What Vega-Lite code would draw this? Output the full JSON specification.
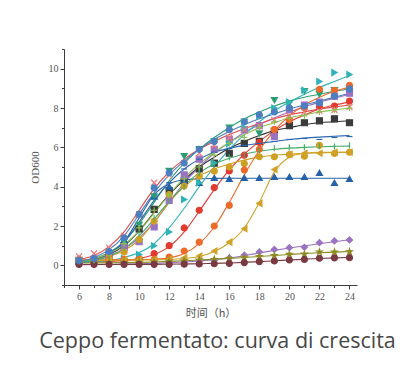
{
  "$schema": "https://vega.github.io/schema/vega-lite/v6.json",
  "width": 293,
  "height": 236,
  "autosize": {"type": "none"},
  "padding": {"left": 64, "top": 49, "right": 53, "bottom": 95},
  "background": "white",
  "config": {
    "view": {"stroke": null},
    "axis": {
      "grid": false,
      "domainColor": "#3a3a3a",
      "tickColor": "#3a3a3a",
      "labelFont": "Liberation Serif",
      "labelFontSize": 10,
      "labelColor": "#555555",
      "titleFont": "Liberation Serif",
      "titleFontSize": 11,
      "titleFontWeight": "normal",
      "titleColor": "#555555"
    }
  },
  "title": {
    "text": "Ceppo fermentato: curva di crescita",
    "orient": "bottom",
    "anchor": "middle",
    "font": "Open Sans",
    "fontSize": 21.5,
    "fontWeight": "normal",
    "color": "#474747",
    "offset": 13,
    "dx": 7
  },
  "datasets": {
    "obs": [
      {"h":6,"S1":0.2,"S2":0.2,"S3":0.2,"S4":0.25,"S5":0.25,"S6":0.25,"S7":0.2,"S8":0.3,"S9":0.25,"S10":0.05,"S11":0.12,"S12":0.05,"S13":0.2,"S14":0.2,"S15":0.45,"S16":0.25,"S17":0.25},
      {"h":7,"S1":0.25,"S2":0.2,"S3":0.3,"S4":0.3,"S5":0.3,"S6":0.3,"S7":0.2,"S8":0.3,"S9":0.25,"S10":0.05,"S11":0.12,"S12":0.05,"S13":0.3,"S14":0.25,"S15":0.6,"S16":0.3,"S17":0.35},
      {"h":8,"S1":0.5,"S2":0.22,"S3":0.6,"S4":0.6,"S5":0.5,"S6":0.4,"S7":0.25,"S8":0.3,"S9":0.28,"S10":0.05,"S11":0.13,"S12":0.05,"S13":0.7,"S14":0.45,"S15":0.9,"S16":0.6,"S17":0.7},
      {"h":9,"S1":1.0,"S2":0.28,"S3":1.3,"S4":1.2,"S5":0.9,"S6":0.68,"S7":0.35,"S8":0.3,"S9":0.3,"S10":0.08,"S11":0.14,"S12":0.05,"S13":1.4,"S14":0.9,"S15":1.5,"S16":1.1,"S17":1.4},
      {"h":10,"S1":1.85,"S2":0.36,"S3":2.6,"S4":2.05,"S5":1.2,"S6":1.32,"S7":0.55,"S8":0.3,"S9":0.3,"S10":0.08,"S11":0.15,"S12":0.05,"S13":2.5,"S14":1.6,"S15":2.6,"S16":1.9,"S17":2.6},
      {"h":11,"S1":2.85,"S2":0.6,"S3":3.5,"S4":3.5,"S5":1.95,"S6":2.25,"S7":1.0,"S8":0.3,"S9":0.3,"S10":0.1,"S11":0.17,"S12":0.05,"S13":3.4,"S14":2.4,"S15":4.2,"S16":2.8,"S17":3.94},
      {"h":12,"S1":3.8,"S2":1.0,"S3":4.0,"S4":4.8,"S5":3.3,"S6":3.6,"S7":1.7,"S8":0.42,"S9":0.32,"S10":0.12,"S11":0.2,"S12":0.05,"S13":4.2,"S14":3.3,"S15":4.6,"S16":3.6,"S17":4.7},
      {"h":13,"S1":4.3,"S2":1.9,"S3":4.3,"S4":5.55,"S5":4.6,"S6":4.03,"S7":3.35,"S8":0.73,"S9":0.38,"S10":0.15,"S11":0.23,"S12":0.06,"S13":4.9,"S14":4.0,"S15":5.2,"S16":4.4,"S17":5.2},
      {"h":14,"S1":4.9,"S2":2.8,"S3":4.2,"S4":5.9,"S5":5.4,"S6":4.53,"S7":4.2,"S8":1.18,"S9":0.47,"S10":0.2,"S11":0.27,"S12":0.07,"S13":5.4,"S14":4.7,"S15":5.7,"S16":5.0,"S17":5.9},
      {"h":15,"S1":5.2,"S2":3.95,"S3":4.45,"S4":6.3,"S5":5.9,"S6":4.79,"S7":5.2,"S8":2.0,"S9":0.73,"S10":0.25,"S11":0.3,"S12":0.08,"S13":5.75,"S14":5.1,"S15":6.1,"S16":5.6,"S17":6.3},
      {"h":16,"S1":5.7,"S2":4.8,"S3":4.4,"S4":7.0,"S5":6.4,"S6":5.0,"S7":6.2,"S8":3.05,"S9":1.18,"S10":0.38,"S11":0.35,"S12":0.1,"S13":5.95,"S14":5.5,"S15":6.5,"S16":6.2,"S17":6.9},
      {"h":17,"S1":6.2,"S2":5.6,"S3":4.45,"S4":7.3,"S5":6.9,"S6":5.18,"S7":7.0,"S8":4.85,"S9":1.86,"S10":0.52,"S11":0.39,"S12":0.14,"S13":6.1,"S14":5.6,"S15":6.9,"S16":6.5,"S17":7.3},
      {"h":18,"S1":6.3,"S2":6.25,"S3":4.45,"S4":6.7,"S5":7.1,"S6":5.52,"S7":7.6,"S8":5.9,"S9":3.15,"S10":0.68,"S11":0.45,"S12":0.19,"S13":6.2,"S14":5.85,"S15":7.1,"S16":7.0,"S17":7.66},
      {"h":19,"S1":6.8,"S2":6.9,"S3":4.5,"S4":8.4,"S5":6.55,"S6":5.52,"S7":8.0,"S8":6.9,"S9":4.87,"S10":0.81,"S11":0.5,"S12":0.22,"S13":6.3,"S14":5.95,"S15":7.4,"S16":7.3,"S17":7.8},
      {"h":20,"S1":7.1,"S2":7.4,"S3":4.5,"S4":8.25,"S5":7.9,"S6":5.63,"S7":8.3,"S8":7.4,"S9":5.65,"S10":0.9,"S11":0.56,"S12":0.27,"S13":6.4,"S14":6.0,"S15":7.6,"S16":7.5,"S17":8.0},
      {"h":21,"S1":7.25,"S2":8.05,"S3":4.5,"S4":8.85,"S5":8.15,"S6":5.55,"S7":8.9,"S8":8.0,"S9":5.7,"S10":0.92,"S11":0.57,"S12":0.3,"S13":6.45,"S14":6.0,"S15":7.8,"S16":7.6,"S17":8.1},
      {"h":22,"S1":7.35,"S2":8.05,"S3":4.7,"S4":8.7,"S5":8.3,"S6":6.1,"S7":9.35,"S8":8.95,"S9":5.7,"S10":1.15,"S11":0.68,"S12":0.36,"S13":6.4,"S14":6.05,"S15":7.85,"S16":7.8,"S17":8.26},
      {"h":23,"S1":7.45,"S2":8.1,"S3":4.2,"S4":8.9,"S5":8.6,"S6":5.69,"S7":9.8,"S8":8.9,"S9":5.75,"S10":1.24,"S11":0.68,"S12":0.38,"S13":6.5,"S14":6.05,"S15":7.9,"S16":7.9,"S17":8.6},
      {"h":24,"S1":7.25,"S2":8.35,"S3":4.4,"S4":9.0,"S5":8.75,"S6":5.75,"S7":9.7,"S8":9.15,"S9":5.75,"S10":1.29,"S11":0.69,"S12":0.39,"S13":6.55,"S14":6.1,"S15":8.05,"S16":8.0,"S17":8.97}
    ],
    "fit": [
      {"h":6,"S1":0.2,"S2":0.15,"S3":0.12,"S4":0.2,"S5":0.2,"S6":0.2,"S7":0.15,"S8":0.28,"S9":0.25,"S10":0.03,"S11":0.12,"S12":0.04,"S13":0.2,"S14":0.2,"S15":0.3,"S16":0.2,"S17":0.2},
      {"h":7,"S1":0.3,"S2":0.17,"S3":0.25,"S4":0.35,"S5":0.3,"S6":0.3,"S7":0.2,"S8":0.28,"S9":0.25,"S10":0.04,"S11":0.12,"S12":0.04,"S13":0.3,"S14":0.25,"S15":0.5,"S16":0.35,"S17":0.4},
      {"h":8,"S1":0.55,"S2":0.2,"S3":0.55,"S4":0.65,"S5":0.5,"S6":0.45,"S7":0.25,"S8":0.28,"S9":0.25,"S10":0.05,"S11":0.13,"S12":0.04,"S13":0.6,"S14":0.45,"S15":0.95,"S16":0.6,"S17":0.8},
      {"h":9,"S1":1.0,"S2":0.25,"S3":1.2,"S4":1.2,"S5":0.85,"S6":0.75,"S7":0.4,"S8":0.28,"S9":0.26,"S10":0.06,"S11":0.14,"S12":0.05,"S13":1.2,"S14":0.85,"S15":1.7,"S16":1.05,"S17":1.5},
      {"h":10,"S1":1.75,"S2":0.35,"S3":2.4,"S4":2.1,"S5":1.4,"S6":1.3,"S7":0.65,"S8":0.29,"S9":0.27,"S10":0.08,"S11":0.15,"S12":0.05,"S13":2.2,"S14":1.5,"S15":2.8,"S16":1.75,"S17":2.6},
      {"h":11,"S1":2.7,"S2":0.55,"S3":3.6,"S4":3.2,"S5":2.2,"S6":2.2,"S7":1.1,"S8":0.31,"S9":0.28,"S10":0.1,"S11":0.17,"S12":0.05,"S13":3.3,"S14":2.35,"S15":3.9,"S16":2.65,"S17":3.7},
      {"h":12,"S1":3.6,"S2":0.95,"S3":4.15,"S4":4.3,"S5":3.2,"S6":3.2,"S7":1.9,"S8":0.38,"S9":0.3,"S10":0.13,"S11":0.2,"S12":0.06,"S13":4.2,"S14":3.25,"S15":4.75,"S16":3.6,"S17":4.6},
      {"h":13,"S1":4.35,"S2":1.7,"S3":4.35,"S4":5.2,"S5":4.2,"S6":4.0,"S7":2.9,"S8":0.6,"S9":0.35,"S10":0.17,"S11":0.23,"S12":0.07,"S13":4.9,"S14":4.05,"S15":5.4,"S16":4.45,"S17":5.3},
      {"h":14,"S1":5.0,"S2":2.75,"S3":4.4,"S4":5.9,"S5":5.0,"S6":4.55,"S7":4.0,"S8":1.1,"S9":0.45,"S10":0.22,"S11":0.27,"S12":0.08,"S13":5.4,"S14":4.7,"S15":5.9,"S16":5.15,"S17":5.9},
      {"h":15,"S1":5.5,"S2":3.85,"S3":4.42,"S4":6.5,"S5":5.7,"S6":4.9,"S7":5.0,"S8":1.95,"S9":0.7,"S10":0.29,"S11":0.31,"S12":0.1,"S13":5.75,"S14":5.15,"S15":6.3,"S16":5.75,"S17":6.4},
      {"h":16,"S1":5.95,"S2":4.85,"S3":4.43,"S4":7.0,"S5":6.25,"S6":5.15,"S7":5.9,"S8":3.2,"S9":1.15,"S10":0.38,"S11":0.35,"S12":0.12,"S13":5.95,"S14":5.45,"S15":6.65,"S16":6.25,"S17":6.8},
      {"h":17,"S1":6.3,"S2":5.65,"S3":4.43,"S4":7.45,"S5":6.75,"S6":5.35,"S7":6.65,"S8":4.6,"S9":1.9,"S10":0.5,"S11":0.4,"S12":0.15,"S13":6.1,"S14":5.65,"S15":6.95,"S16":6.65,"S17":7.15},
      {"h":18,"S1":6.6,"S2":6.3,"S3":4.43,"S4":7.8,"S5":7.15,"S6":5.5,"S7":7.3,"S8":5.85,"S9":3.2,"S10":0.63,"S11":0.45,"S12":0.19,"S13":6.2,"S14":5.8,"S15":7.2,"S16":7.0,"S17":7.45},
      {"h":19,"S1":6.85,"S2":6.85,"S3":4.43,"S4":8.1,"S5":7.5,"S6":5.6,"S7":7.85,"S8":6.85,"S9":4.75,"S10":0.76,"S11":0.5,"S12":0.23,"S13":6.3,"S14":5.9,"S15":7.45,"S16":7.25,"S17":7.7},
      {"h":20,"S1":7.0,"S2":7.3,"S3":4.43,"S4":8.35,"S5":7.8,"S6":5.65,"S7":8.3,"S8":7.6,"S9":5.5,"S10":0.88,"S11":0.55,"S12":0.27,"S13":6.4,"S14":5.96,"S15":7.65,"S16":7.5,"S17":7.95},
      {"h":21,"S1":7.15,"S2":7.65,"S3":4.43,"S4":8.55,"S5":8.05,"S6":5.7,"S7":8.7,"S8":8.15,"S9":5.7,"S10":0.99,"S11":0.6,"S12":0.31,"S13":6.47,"S14":6.0,"S15":7.8,"S16":7.65,"S17":8.15},
      {"h":22,"S1":7.25,"S2":7.95,"S3":4.43,"S4":8.7,"S5":8.3,"S6":5.72,"S7":9.05,"S8":8.55,"S9":5.75,"S10":1.1,"S11":0.64,"S12":0.35,"S13":6.52,"S14":6.03,"S15":7.95,"S16":7.8,"S17":8.35},
      {"h":23,"S1":7.3,"S2":8.15,"S3":4.43,"S4":8.85,"S5":8.5,"S6":5.74,"S7":9.35,"S8":8.85,"S9":5.75,"S10":1.2,"S11":0.67,"S12":0.38,"S13":6.56,"S14":6.05,"S15":8.05,"S16":7.9,"S17":8.55},
      {"h":24,"S1":7.35,"S2":8.3,"S3":4.43,"S4":8.97,"S5":8.7,"S6":5.75,"S7":9.65,"S8":9.05,"S9":5.75,"S10":1.3,"S11":0.7,"S12":0.4,"S13":6.6,"S14":6.06,"S15":8.15,"S16":8.0,"S17":8.75}
    ]
  },
  "encoding": {
    "x": {
      "field": "h",
      "type": "quantitative",
      "scale": {"domain": [5, 24.5], "nice": false, "zero": false},
      "axis": {
        "title": "时间（h）",
        "titleFont": "Noto Sans CJK SC",
        "titleFontSize": 11,
        "titlePadding": 6,
        "labelFont": "Liberation Serif",
        "values": [5,6,7,8,9,10,11,12,13,14,15,16,17,18,19,20,21,22,23,24],
        "labelExpr": "datum.value % 2 == 0 ? datum.label : ''",
        "tickSize": {"condition": {"test": "datum.value % 2 == 0", "value": 4}, "value": 2.5},
        "labelPadding": 2
      }
    },
    "y": {
      "field": "value",
      "type": "quantitative",
      "scale": {"domain": [-1, 11], "nice": false, "zero": false},
      "axis": {
        "title": "OD600",
        "titlePadding": 8,
        "labelFont": "Liberation Serif",
        "values": [-1,0,1,2,3,4,5,6,7,8,9,10,11],
        "labelExpr": "datum.value % 2 == 0 && datum.value >= 0 && datum.value <= 10 ? datum.label : ''",
        "tickSize": {"condition": {"test": "datum.value % 2 == 0", "value": 4}, "value": 2.5},
        "labelPadding": 2
      }
    }
  },
  "layer": [
    {
      "data": {"name": "fit"},
      "transform": [{"fold": ["S1","S2","S3","S4","S5","S6","S7","S8","S9","S10","S11","S12","S13","S14","S15","S16","S17"], "as": ["s", "value"]}],
      "mark": {"type": "line", "interpolate": "monotone", "strokeWidth": 1.1},
      "encoding": {
        "color": {
          "field": "s",
          "type": "nominal",
          "legend": null,
          "scale": {
            "domain": ["S1","S2","S3","S4","S5","S6","S7","S8","S9","S10","S11","S12","S13","S14","S15","S16","S17"],
            "range": ["#2e2e2e","#e23a30","#2561a8","#2a9e73","#9a72c2","#cf9f22","#2fb3b8","#ec6a2a","#d1a228","#9a72c2","#8c8c22","#7a3a42","#2a66b0","#44ad6a","#e24848","#8cc050","#4b7fc0"]
          }
        },
        "detail": {"field": "s"}
      }
    },
    {
      "data": {"name": "obs"},
      "transform": [{"fold": ["S1","S2","S3","S4","S5","S6","S7","S8","S9","S10","S11","S12","S13","S14","S15","S16","S17"], "as": ["s", "value"]}],
      "mark": {"type": "point", "filled": true, "size": 36, "strokeWidth": 1.2, "opacity": 1},
      "encoding": {
        "fill": {
          "field": "s",
          "type": "nominal",
          "legend": null,
          "scale": {
            "domain": ["S1","S2","S3","S4","S5","S6","S7","S8","S9","S10","S11","S12","S13","S14","S15","S16","S17"],
            "range": ["#3b3b3b","#e23a30","#2561a8","#2a9e73","#9a72c2","#cf9f22","#2fb3b8","#ec6a2a","#d1a228","#9a72c2","#8c8c22","#7a3a42","#2a66b0","#44ad6a","#f07a7a","#8cc050","#4b7fc0"]
          }
        },
        "stroke": {
          "field": "s",
          "type": "nominal",
          "legend": null,
          "scale": {
            "domain": ["S1","S2","S3","S4","S5","S6","S7","S8","S9","S10","S11","S12","S13","S14","S15","S16","S17"],
            "range": ["#3b3b3b","#e23a30","#2561a8","#2a9e73","#9a72c2","#cf9f22","#2fb3b8","#ec6a2a","#d1a228","#9a72c2","#8c8c22","#7a3a42","#2a66b0","#44ad6a","#f07a7a","#8cc050","#4b7fc0"]
          }
        },
        "shape": {
          "field": "s",
          "type": "nominal",
          "legend": null,
          "scale": {
            "domain": ["S1","S2","S3","S4","S5","S6","S7","S8","S9","S10","S11","S12","S13","S14","S15","S16","S17"],
            "range": ["square","circle","triangle-up","triangle-down","square","circle","triangle-right","circle","triangle-left","diamond","M0,-1L0.22,-0.31L0.95,-0.31L0.36,0.12L0.59,0.81L0,0.38L-0.59,0.81L-0.36,0.12L-0.95,-0.31L-0.22,-0.31Z","circle","M-1,0L1,0","M0,-1L0,1","M-1,-1L1,1M-1,1L1,-1","M-1,0L1,0M0,-1L0,1","circle"]
          }
        }
      }
    }
  ]
}
